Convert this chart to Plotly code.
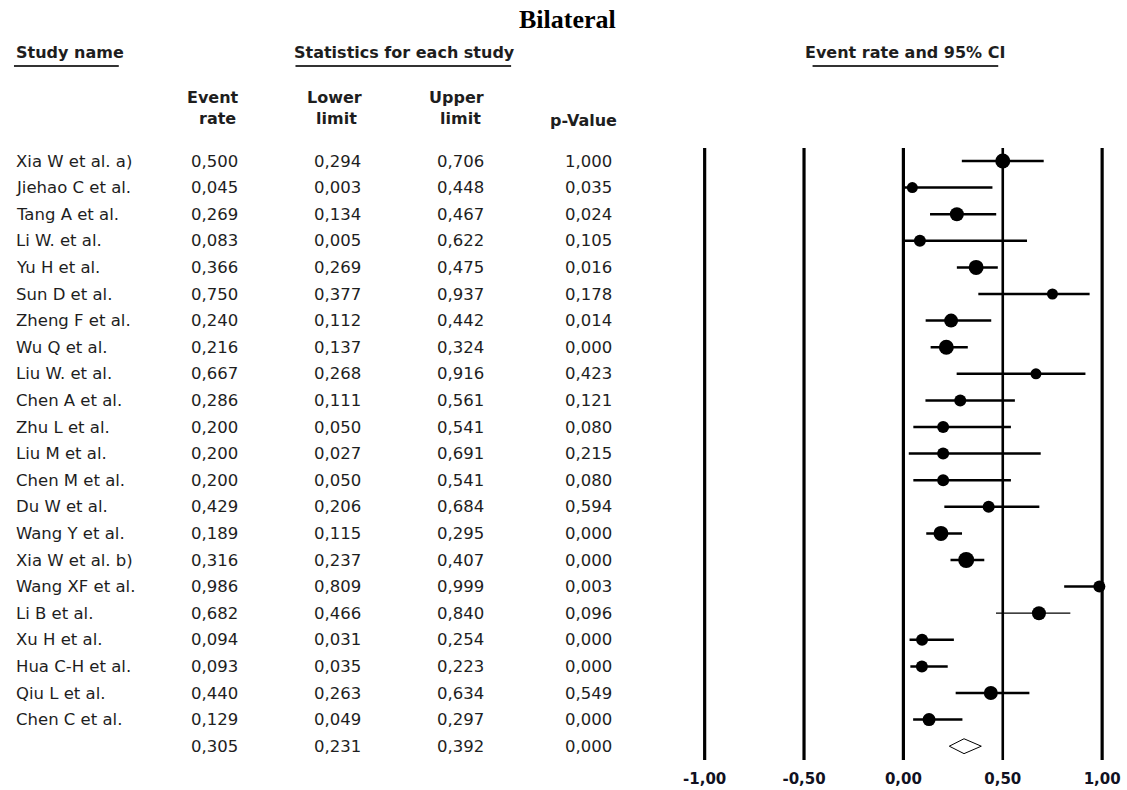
import plotly.graph_objects as go

# ---------------- data ----------------
studies = ["Xia W et al. a)", "Jiehao C et al.", "Tang A et al.", "Li W. et al.",
           "Yu H et al.", "Sun D et al.", "Zheng F et al.", "Wu Q et al.",
           "Liu W. et al.", "Chen A et al.", "Zhu L et al.", "Liu M et al.",
           "Chen M et al.", "Du W et al.", "Wang Y et al.", "Xia W et al. b)",
           "Wang XF et al.", "Li B et al.", "Xu H et al.", "Hua C-H et al.",
           "Qiu L et al.", "Chen C et al."]
event_rate = [0.500, 0.045, 0.269, 0.083, 0.366, 0.750, 0.240, 0.216, 0.667, 0.286, 0.200,
              0.200, 0.200, 0.429, 0.189, 0.316, 0.986, 0.682, 0.094, 0.093, 0.440, 0.129]
lower_limit = [0.294, 0.003, 0.134, 0.005, 0.269, 0.377, 0.112, 0.137, 0.268, 0.111, 0.050,
               0.027, 0.050, 0.206, 0.115, 0.237, 0.809, 0.466, 0.031, 0.035, 0.263, 0.049]
upper_limit = [0.706, 0.448, 0.467, 0.622, 0.475, 0.937, 0.442, 0.324, 0.916, 0.561, 0.541,
               0.691, 0.541, 0.684, 0.295, 0.407, 0.999, 0.840, 0.254, 0.223, 0.634, 0.297]
p_value = [1.000, 0.035, 0.024, 0.105, 0.016, 0.178, 0.014, 0.000, 0.423, 0.121, 0.080,
           0.215, 0.080, 0.594, 0.000, 0.000, 0.003, 0.096, 0.000, 0.000, 0.549, 0.000]
summary_rate = 0.305
summary_lower = 0.231
summary_upper = 0.392
summary_p = 0.000

tick_vals = [-1.0, -0.5, 0.0, 0.5, 1.0]
tick_text = ["-1,00", "-0,50", "0,00", "0,50", "1,00"]

# ---------------- style ----------------
marker_px = [15, 11, 14, 12, 15, 11, 14, 15, 11, 12, 12, 12, 12, 12, 15, 16, 12, 14, 12, 12, 14, 13]
ci_width = [2.5] * len(studies)
ci_width[17] = 1.3

W, H = 1127, 790
PLOT_H = 760  # plot area height (bottom margin 30)
ROW0_PX, ROW_PX = 161.0, 26.6

def px_x(px):
    return px / W

def px_y(py):
    return 1 - py / PLOT_H

FONT = "DejaVu Sans"
TXT = "#1e1e1e"
TSIZE = 16.5

fig = go.Figure()

n = len(studies)
rows = list(range(n))

# CI lines
for i in rows:
    fig.add_trace(go.Scatter(x=[lower_limit[i], upper_limit[i]], y=[i, i], mode="lines",
                             line=dict(color="black", width=ci_width[i]),
                             hoverinfo="skip", showlegend=False))
# point estimates
fig.add_trace(go.Scatter(x=event_rate, y=rows, mode="markers",
                         marker=dict(color="black", size=marker_px, symbol="circle", opacity=1,
                                     line=dict(width=0)),
                         showlegend=False))
# summary diamond
dy = 0.28
fig.add_trace(go.Scatter(x=[summary_lower, summary_rate, summary_upper, summary_rate, summary_lower],
                         y=[n, n - dy, n, n + dy, n], mode="lines",
                         line=dict(color="black", width=1), showlegend=False))

# vertical reference lines
for v in tick_vals:
    fig.add_shape(type="line", xref="x", yref="paper", x0=v, x1=v,
                  y0=0, y1=px_y(148),
                  line=dict(color="black", width=2.6 if v == 0.5 else 3.2), layer="below")

def fmt(v):
    return f"{v:.3f}".replace(".", ",")

col_right = [238, 362, 485, 613]
anns = []
all_rows = rows + [n]
vals = [event_rate + [summary_rate], lower_limit + [summary_lower],
        upper_limit + [summary_upper], p_value + [summary_p]]
for i in all_rows:
    if i < n:
        anns.append(dict(x=px_x(12), y=i, xref="paper", yref="y", text=studies[i],
                         xanchor="left", yanchor="middle", showarrow=False,
                         font=dict(family=FONT, size=TSIZE, color=TXT)))
    for c in range(4):
        anns.append(dict(x=px_x(col_right[c]), y=i, xref="paper", yref="y", text=fmt(vals[c][i]),
                         xanchor="right", yanchor="middle", showarrow=False,
                         font=dict(family=FONT, size=TSIZE, color=TXT)))

def hdr(text, x, y, anchor="center", size=16):
    anns.append(dict(x=px_x(x), y=px_y(y), xref="paper", yref="paper", text=text,
                     xanchor=anchor, yanchor="middle", showarrow=False,
                     font=dict(family=FONT, size=size, color=TXT, weight="bold")))

# title
anns.append(dict(x=px_x(567), y=px_y(20), xref="paper", yref="paper", text="<b>Bilateral</b>",
                 xanchor="center", yanchor="middle", showarrow=False,
                 font=dict(family="Liberation Serif", size=26, color="black")))
hdr("Study name", 12, 53, "left")
hdr("Statistics for each study", 403, 53)
hdr("Event rate and 95% CI", 905, 53)
hdr("Event", 211, 97)
hdr("rate", 216, 119)
hdr("Lower", 333, 97)
hdr("limit", 335, 119)
hdr("Upper", 455, 97)
hdr("limit", 459, 119)
hdr("p-Value", 583, 120)

for x0, x1 in [(12, 117), (294, 510), (812, 998)]:
    fig.add_shape(type="line", xref="paper", yref="paper", x0=px_x(x0), x1=px_x(x1),
                  y0=px_y(66), y1=px_y(66), line=dict(color="#333333", width=2))

x_lo, x_hi = -1.1, 1.1
fig.update_layout(
    width=W, height=H,
    margin=dict(l=0, r=0, t=0, b=H - PLOT_H),
    paper_bgcolor="white", plot_bgcolor="white",
    annotations=anns, showlegend=False,
    xaxis=dict(domain=[684 / W, 1122 / W], range=[x_lo, x_hi], showgrid=False, zeroline=False,
               showline=False, tickvals=tick_vals, ticktext=tick_text, ticks="outside",
               ticklen=5, tickcolor="white",
               tickfont=dict(family=FONT, size=15, color="#111122", weight="bold")),
    yaxis=dict(range=[(PLOT_H - ROW0_PX) / ROW_PX, -ROW0_PX / ROW_PX], visible=False,
               showgrid=False, zeroline=False),
)

fig.write_html("out.html", config={"displayModeBar": False},
               post_script="document.body.style.margin='0';document.body.style.overflow='hidden';")
